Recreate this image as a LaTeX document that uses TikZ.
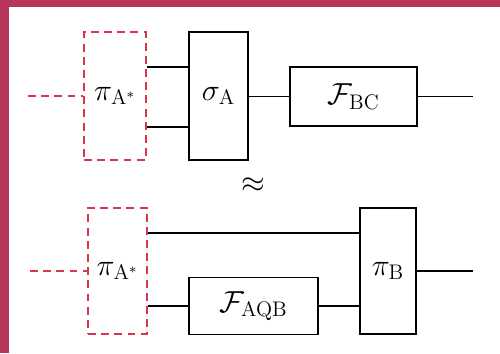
\documentclass[tikz,border=0pt]{standalone}
\usepackage{amsmath,amssymb}
\definecolor{frame}{RGB}{181,54,90}
\definecolor{dashred}{RGB}{218,52,78}
\tikzset{
  box/.style={draw, line width=1.1pt, inner sep=0pt, font=\fontsize{17}{20}\selectfont},
  dbox/.style={draw=dashred, line width=1.1pt, dash pattern=on 4.5pt off 3pt, inner sep=0pt, font=\fontsize{17}{20}\selectfont},
  wire/.style={line width=1.1pt},
  dwire/.style={dashred, line width=1.1pt, dash pattern=on 4.5pt off 3pt}
}
\begin{document}
\begin{tikzpicture}[x=0.02cm, y=-0.02cm]
\useasboundingbox (0,0) rectangle (500,353);
\fill[frame] (0,0) rectangle (9,353);
\fill[frame] (0,0) rectangle (500,7);

% top row
\node[dbox, minimum width=1.24cm, minimum height=2.56cm] (pa) at (115,96) {$\pi_{\mathrm{A}^*}$};
\node[box, minimum width=1.18cm, minimum height=2.56cm] (sa) at (218.5,96) {$\sigma_{\mathrm{A}}$};
\node[box, minimum width=2.54cm, minimum height=1.18cm] (fbc) at (353.5,96.5) {$\mathcal{F}_{\mathrm{BC}}$};
\coordinate (in1) at (28,96);
\coordinate (out1) at (473,96.5);
\draw[dwire] (in1) -- (pa.west);
\draw[wire] ([yshift=0.58cm]pa.east) -- ([yshift=0.58cm]sa.west);
\draw[wire] ([yshift=-0.62cm]pa.east) -- ([yshift=-0.62cm]sa.west);
\draw[wire] (sa.east |- fbc.west) -- (fbc.west);
\draw[wire] (fbc.east) -- (out1);

\node[font=\fontsize{17}{20}\selectfont] (approx) at (253,185) {$\approx$};

% bottom row
\node[dbox, minimum width=1.18cm, minimum height=2.52cm] (pb) at (117.5,271) {$\pi_{\mathrm{A}^*}$};
\node[box, minimum width=2.58cm, minimum height=1.14cm] (faqb) at (253.5,306) {$\mathcal{F}_{\mathrm{AQB}}$};
\node[box, minimum width=1.12cm, minimum height=2.52cm] (pib) at (388,271) {$\pi_{\mathrm{B}}$};
\coordinate (in2) at (30,271);
\coordinate (out2) at (473,271);
\draw[dwire] (in2) -- (pb.west);
\draw[wire] ([yshift=0.76cm]pb.east) -- ([yshift=0.76cm]pib.west);
\draw[wire] (pb.east |- faqb.west) -- (faqb.west);
\draw[wire] (faqb.east) -- (faqb.east -| pib.west);
\draw[wire] (pib.east) -- (out2);
\end{tikzpicture}
\end{document}
